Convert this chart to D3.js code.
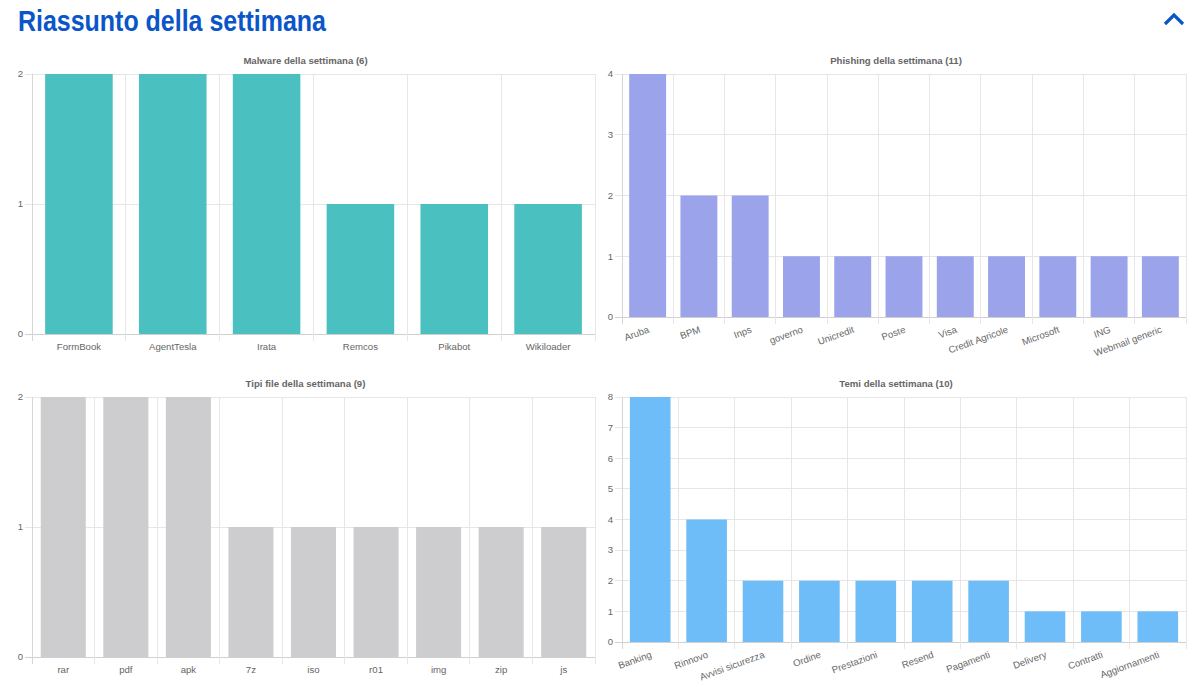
<!DOCTYPE html>
<html><head><meta charset="utf-8">
<script src="https://cdn.jsdelivr.net/npm/d3@7"></script>
<style>
body{margin:0;background:#fff;}
svg text{font-family:"Liberation Sans",Arial,Helvetica,sans-serif;}
</style></head>
<body>
<svg id="c" width="1200" height="687"></svg>
<script>
const pageTitle = "Riassunto della settimana";

const malwareTitle = "Malware della settimana (6)";
const malwareCategories = ["FormBook","AgentTesla","Irata","Remcos","Pikabot","Wikiloader"];
const malwareValues = [2,2,2,1,1,1];
const malwareTicks = [0,1,2];

const phishingTitle = "Phishing della settimana (11)";
const phishingCategories = ["Aruba","BPM","Inps","governo","Unicredit","Poste","Visa","Credit Agricole","Microsoft","ING","Webmail generic"];
const phishingValues = [4,2,2,1,1,1,1,1,1,1,1];
const phishingTicks = [0,1,2,3,4];

const fileTitle = "Tipi file della settimana (9)";
const fileCategories = ["rar","pdf","apk","7z","iso","r01","img","zip","js"];
const fileValues = [2,2,2,1,1,1,1,1,1];
const fileTicks = [0,1,2];

const temiTitle = "Temi della settimana (10)";
const temiCategories = ["Banking","Rinnovo","Avvisi sicurezza","Ordine","Prestazioni","Resend","Pagamenti","Delivery","Contratti","Aggiornamenti"];
const temiValues = [8,4,2,2,2,2,2,1,1,1];
const temiTicks = [0,1,2,3,4,5,6,7,8];

const svg = d3.select("#c");

svg.append("text").attr("x",18).attr("y",31)
  .attr("font-family","Lato, 'Open Sans', sans-serif").attr("font-weight",700)
  .attr("font-size",29).attr("fill","#0a56c9")
  .attr("textLength",308).attr("lengthAdjust","spacingAndGlyphs")
  .text(pageTitle);

svg.append("path").attr("d","M1165,24 L1174,15 L1183,24")
  .attr("fill","none").attr("stroke","#0a56c9").attr("stroke-width",3.2);

function drawChart(cfg){
  const g = svg.append("g");
  const x = d3.scaleBand().domain(cfg.cats).range([cfg.x0,cfg.x1]).paddingInner(0).paddingOuter(0);
  const y = d3.scaleLinear().domain([0,d3.max(cfg.ticks)]).range([cfg.y0,cfg.y1]);
  const grid = "#e6e6e6";
  const fs = 9.6;
  // title
  g.append("text").attr("x",(cfg.x0+cfg.x1)/2-8).attr("y",cfg.y1-10)
    .attr("text-anchor","middle").attr("font-size",9.6).attr("font-weight",700)
    .attr("fill","#666").text(cfg.title);
  // horizontal gridlines + tick marks
  cfg.ticks.forEach(t=>{
    g.append("line").attr("x1",cfg.x0-7).attr("x2",cfg.x1).attr("y1",y(t)).attr("y2",y(t))
      .attr("stroke", t===0 ? "#d0d0d0" : grid).attr("stroke-width",1).attr("shape-rendering","crispEdges");
    g.append("text").attr("x",cfg.x0-9).attr("y",y(t)).attr("dy","0.35em")
      .attr("text-anchor","end").attr("font-size",fs).attr("fill","#666").text(t);
  });
  // vertical gridlines at band boundaries
  const bounds = cfg.cats.map(c=>x(c)).concat([cfg.x1]);
  bounds.forEach((bx,i)=>{
    g.append("line").attr("x1",bx).attr("x2",bx).attr("y1",cfg.y1).attr("y2",cfg.y0+7)
      .attr("stroke", i===0 ? "#d6d6d6" : grid).attr("stroke-width",1).attr("shape-rendering","crispEdges");
  });
  // bars
  const bw = x.bandwidth()*0.72;
  g.selectAll("rect.bar").data(cfg.cats).enter().append("rect")
    .attr("x",(c)=>x(c)+(x.bandwidth()-bw)/2)
    .attr("y",(c,i)=>y(cfg.vals[i]))
    .attr("width",bw)
    .attr("height",(c,i)=>y(0)-y(cfg.vals[i]))
    .attr("fill",cfg.color);
  // x labels
  cfg.cats.forEach(c=>{
    const cx = x(c)+x.bandwidth()/2;
    if(cfg.rotate){
      g.append("text").attr("transform",`translate(${cx+1},${cfg.y0+12}) rotate(-20)`)
        .attr("text-anchor","end").attr("dy","0.35em").attr("font-size",fs).attr("fill","#666").text(c);
    } else {
      g.append("text").attr("x",cx).attr("y",cfg.y0+13).attr("dy","0.35em")
        .attr("text-anchor","middle").attr("font-size",fs).attr("fill","#666").text(c);
    }
  });
}

drawChart({title:malwareTitle,cats:malwareCategories,vals:malwareValues,ticks:malwareTicks,
  x0:32,x1:595,y0:334,y1:74,color:"#4bc0c0",rotate:false});
drawChart({title:phishingTitle,cats:phishingCategories,vals:phishingValues,ticks:phishingTicks,
  x0:622,x1:1186,y0:317,y1:74,color:"#9ba3eb",rotate:true});
drawChart({title:fileTitle,cats:fileCategories,vals:fileValues,ticks:fileTicks,
  x0:32,x1:595,y0:657,y1:397,color:"#cdcdcf",rotate:false});
drawChart({title:temiTitle,cats:temiCategories,vals:temiValues,ticks:temiTicks,
  x0:622,x1:1186,y0:642,y1:397,color:"#6ebdf8",rotate:true});
</script>
</body></html>
